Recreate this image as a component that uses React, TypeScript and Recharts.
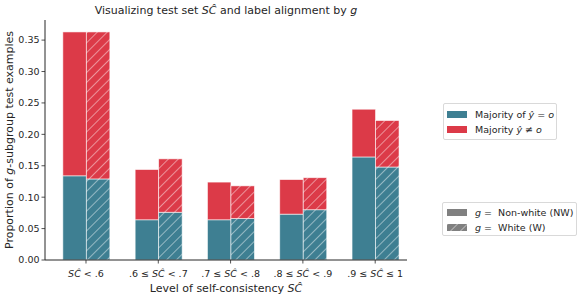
import React from "react";
import { BarChart, Bar, XAxis, YAxis } from "recharts";

// self-consistency bins
const categories = ["SĈ < .6", ".6 ≤ SĈ < .7", ".7 ≤ SĈ < .8", ".8 ≤ SĈ < .9", ".9 ≤ SĈ ≤ 1"];

// proportions (bottom = majority agrees, top = majority disagrees)
const nwAligned = [0.134, 0.064, 0.064, 0.073, 0.164];
const nwMisaligned = [0.229, 0.080, 0.060, 0.055, 0.076];
const wAligned = [0.129, 0.076, 0.066, 0.080, 0.148];
const wMisaligned = [0.234, 0.085, 0.052, 0.051, 0.074];

const yTicks = [0, 0.05, 0.1, 0.15, 0.2, 0.25, 0.3, 0.35];

const TEAL = "#3e7f92";
const RED = "#dc3a48";
const FONT = "DejaVu Sans, Verdana, sans-serif";
const INK = "#262626";

const data = categories.map((c, i) => ({
  pos: i,
  label: c,
  nwAligned: nwAligned[i],
  nwMisaligned: nwMisaligned[i],
  wAligned: wAligned[i],
  wMisaligned: wMisaligned[i],
}));

// splits "SĈ" out so it can be italic
const renderMath = (s: string) => {
  const parts = s.split("SĈ");
  return parts.map((p, i) => (
    <React.Fragment key={i}>
      {i > 0 && <tspan fontStyle="italic">SĈ</tspan>}
      {p && <tspan>{p}</tspan>}
    </React.Fragment>
  ));
};

const XTick = (props: any) => {
  const { x, y, payload } = props;
  const label = categories[payload.value] ?? "";
  return (
    <g>
      <line x1={x} x2={x} y1={y - 8} y2={y - 4.5} stroke={INK} strokeWidth={0.8} />
      <text x={x} y={y + 8.5} textAnchor="middle" fontSize={9.5} fill={INK} fontFamily={FONT}>
        {renderMath(label)}
      </text>
    </g>
  );
};

const PlainBar = (props: any) => {
  const { x, y, width, height, fill } = props;
  if (!height) return null;
  return <rect x={x} y={y} width={width} height={height} fill={fill} stroke="#fff" strokeOpacity={0.7} strokeWidth={0.8} />;
};

const HatchBar = (props: any) => {
  const { x, y, width, height, fill } = props;
  if (!height) return null;
  return (
    <g>
      <rect x={x} y={y} width={width} height={height} fill={fill} />
      <rect x={x} y={y} width={width} height={height} fill="url(#hatch)" stroke="#fff" strokeOpacity={0.7} strokeWidth={0.8} />
    </g>
  );
};

const LegendRow = ({ color, hatched, children }: any) => (
  <div style={{ display: "flex", alignItems: "center", height: 15, whiteSpace: "nowrap" }}>
    <svg width={20} height={7} style={{ marginRight: 8, flex: "none" }}>
      <rect x={0} y={0} width={20} height={7} fill={color} />
      {hatched && <rect x={0} y={0} width={20} height={7} fill="url(#hatch)" />}
    </svg>
    <span>{children}</span>
  </div>
);

export default function App() {
  return (
    <div style={{ position: "absolute", left: 0, top: 0, width: 582, height: 299, background: "#fff", fontFamily: FONT, color: INK }}>
      <svg width={0} height={0} style={{ position: "absolute" }}>
        <defs>
          <pattern id="hatch" width={7} height={7} patternUnits="userSpaceOnUse" patternTransform="rotate(45)">
            <line x1={0} y1={0} x2={0} y2={7} stroke="#fff" strokeWidth={1} strokeOpacity={0.9} />
          </pattern>
        </defs>
      </svg>
      <div style={{ position: "absolute", left: 45, width: 362, top: 4, textAlign: "center", fontSize: 11 }}>
        Visualizing test set <i>SĈ</i> and label alignment by <i>g</i>
      </div>
      <BarChart
        width={582}
        height={299}
        data={data}
        margin={{ top: 20, right: 175, bottom: 0, left: 0 }}
        barGap={0}
        barSize={23.5}
      >
        <XAxis
          type="number"
          dataKey="pos"
          domain={[-0.567, 4.44]}
          ticks={[0, 1, 2, 3, 4]}
          allowDataOverflow
          tickLine={false}
          tick={<XTick />}
          axisLine={{ stroke: INK, strokeWidth: 1 }}
          height={39}
          label={{
            position: "insideBottom",
            offset: 2,
            content: ({ viewBox }: any) => (
              <text x={viewBox.x + viewBox.width / 2} y={viewBox.y + 32} textAnchor="middle" fontSize={11} fill={INK} fontFamily={FONT}>
                Level of self-consistency <tspan fontStyle="italic">SĈ</tspan>
              </text>
            ),
          }}
        />
        <YAxis
          width={45}
          domain={[0, 0.382]}
          ticks={yTicks}
          allowDataOverflow
          tickFormatter={(v: number) => v.toFixed(2)}
          tick={{ fontSize: 9.5, fill: INK, fontFamily: FONT }}
          tickSize={3.5}
          tickLine={{ stroke: INK, strokeWidth: 0.8 }}
          axisLine={{ stroke: INK, strokeWidth: 1 }}
          label={{
            content: ({ viewBox }: any) => {
              const cx = 10;
              const cy = viewBox.y + viewBox.height / 2;
              return (
                <text x={cx} y={cy} transform={`rotate(-90 ${cx} ${cy})`} textAnchor="middle" dominantBaseline="middle" fontSize={11} fill={INK} fontFamily={FONT}>
                  Proportion of <tspan fontStyle="italic">g</tspan>-subgroup test examples
                </text>
              );
            },
          }}
        />
        <Bar dataKey="nwAligned" stackId="nw" fill={TEAL} shape={<PlainBar />} isAnimationActive={false} />
        <Bar dataKey="nwMisaligned" stackId="nw" fill={RED} shape={<PlainBar />} isAnimationActive={false} />
        <Bar dataKey="wAligned" stackId="w" fill={TEAL} shape={<HatchBar />} isAnimationActive={false} />
        <Bar dataKey="wMisaligned" stackId="w" fill={RED} shape={<HatchBar />} isAnimationActive={false} />
      </BarChart>
      <div style={{ position: "absolute", left: 443, top: 103, width: 114, height: 37, boxSizing: "border-box", border: "1px solid #d9d9d9", borderRadius: 2, padding: "3px 0 0 3px", fontSize: 9.5 }}>
        <LegendRow color={TEAL}>Majority of <i>ŷ</i> = <i>o</i></LegendRow>
        <LegendRow color={RED}>Majority <i>ŷ</i> ≠ <i>o</i></LegendRow>
      </div>
      <div style={{ position: "absolute", left: 442, top: 202, width: 135, height: 34, boxSizing: "border-box", border: "1px solid #d9d9d9", borderRadius: 2, padding: "2px 0 0 4px", fontSize: 9.5 }}>
        <LegendRow color="#808080"><i>g</i> =&nbsp; Non-white (NW)</LegendRow>
        <LegendRow color="#808080" hatched><i>g</i> =&nbsp; White (W)</LegendRow>
      </div>
    </div>
  );
}
